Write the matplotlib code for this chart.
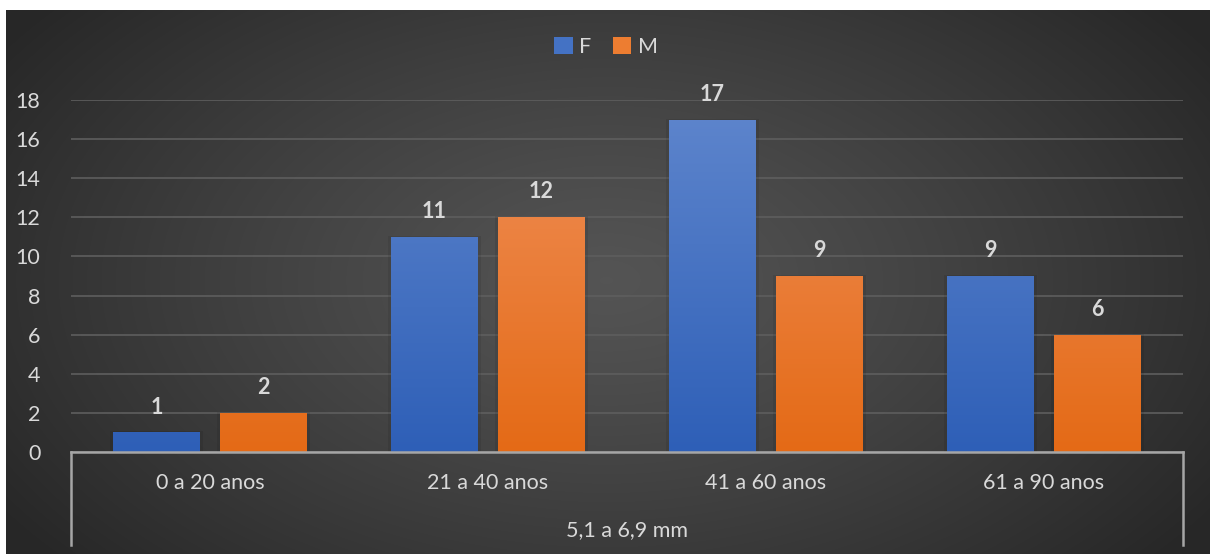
import numpy as np
import matplotlib
matplotlib.use("Agg")
import matplotlib.pyplot as plt
from matplotlib.colors import LinearSegmentedColormap
from matplotlib.lines import Line2D
from matplotlib.patches import Patch

categories = ["0 a 20 anos", "21 a 40 anos", "41 a 60 anos", "61 a 90 anos"]
group_label = "5,1 a 6,9 mm"
series_names = ["F", "M"]
values_F = [1, 11, 17, 9]
values_M = [2, 12, 9, 6]
yticks = [0, 2, 4, 6, 8, 10, 12, 14, 16, 18]

plt.rcParams['font.family'] = ['Lato', 'DejaVu Sans']

W, H = 1210, 554
fig = plt.figure(figsize=(W / 100, H / 100), dpi=100)
fig.patch.set_facecolor("white")

# background radial gradient
bg = fig.add_axes([6 / W, 0, 1 - 6 / W, 1 - 10 / H])
bg.set_axis_off()
yy, xx = np.mgrid[0:544, 0:1204]
cx, cy = 600, 270
r = np.sqrt(((xx - cx) / 720.0) ** 2 + ((yy - cy) / 430.0) ** 2)
r = np.clip(r, 0, 1)
v = 0.33 - 0.175 * r ** 1.2
img = np.dstack([v, v, v])
bg.imshow(img, aspect="auto", extent=[0, 1, 0, 1], interpolation="bilinear")
bg.set_xlim(0, 1)
bg.set_ylim(0, 1)

ax = fig.add_axes([71 / W, 102 / H, (1183 - 71) / W, (452 - 100) / H])
ax.set_facecolor("none")

x = np.arange(len(categories)) + 0.5
bw = 87 / 278.0
off = 53.5 / 278.0

cmapF = LinearSegmentedColormap.from_list("f", ["#2e5fb7", "#5f86cd"])
cmapM = LinearSegmentedColormap.from_list("m", ["#e46a16", "#f0905a"])

def grad_bars(xs, vals, cmap):
    bars = ax.bar(xs, vals, width=bw, color="none", edgecolor="none", zorder=3)
    for b in bars:
        x0 = b.get_x()
        w, h = b.get_width(), b.get_height()
        ax.add_patch(plt.Rectangle((x0 - 0.01, 0), w + 0.02, h + 0.05,
                                   facecolor="black", alpha=0.08, zorder=2, lw=0))
        grad = np.linspace(0, 1, 256).reshape(-1, 1)
        im = ax.imshow(grad, cmap=cmap, aspect="auto", origin="lower",
                       extent=[x0, x0 + w, 0, 18], zorder=3)
        im.set_clip_path(b)
    return bars

grad_bars(x - off, values_F, cmapF)
grad_bars(x + off, values_M, cmapM)
ax.set_xlim(0, 4)
ax.set_ylim(0, 18)

FS = 15.5
for xs, vals in [(x - off, values_F), (x + off, values_M)]:
    for xi, vi in zip(xs, vals):
        ax.text(xi, vi + 1.3, str(vi), ha="center", va="center", color="#d9d9d9",
                fontsize=FS, fontweight="bold", zorder=5)

ax.set_yticks(yticks)
ax.set_yticklabels([str(t) for t in yticks])
ax.tick_params(axis="y", length=0, pad=22, labelsize=FS, labelcolor="#d9d9d9")
ax.set_xticks([])
ax.yaxis.grid(True, color="#5e5e5e", lw=1.2, zorder=1)
ax.set_axisbelow(True)
for s in ax.spines.values():
    s.set_visible(False)

def fx(px):
    return px / W
def fy(py):
    return 1 - py / H

line_kw = dict(color="#a6a6a6", lw=1.8, transform=fig.transFigure, zorder=10)
fig.add_artist(Line2D([fx(71), fx(1183)], [fy(452), fy(452)], **line_kw))
fig.add_artist(Line2D([fx(71), fx(71)], [fy(452), fy(545)], **line_kw))
fig.add_artist(Line2D([fx(1183), fx(1183)], [fy(452), fy(545)], **line_kw))

for xi, c in zip(x, categories):
    ax.text(xi, -1.6, c, ha="center", va="center", color="#d9d9d9", fontsize=FS,
            transform=ax.transData, clip_on=False)
fig.text(fx(627), fy(530), group_label, ha="center", va="center", color="#d9d9d9", fontsize=FS)

handles = [Patch(facecolor="#4472c4", label=series_names[0]),
           Patch(facecolor="#ed7d31", label=series_names[1])]
fig.legend(handles=handles, loc="center", bbox_to_anchor=(fx(606), fy(47)), ncol=2,
           frameon=False, fontsize=FS, handlelength=0.85, handleheight=0.85,
           handletextpad=0.3, columnspacing=1.0, labelcolor="#d9d9d9")

fig.savefig("out.png", dpi=100, facecolor=fig.get_facecolor())
